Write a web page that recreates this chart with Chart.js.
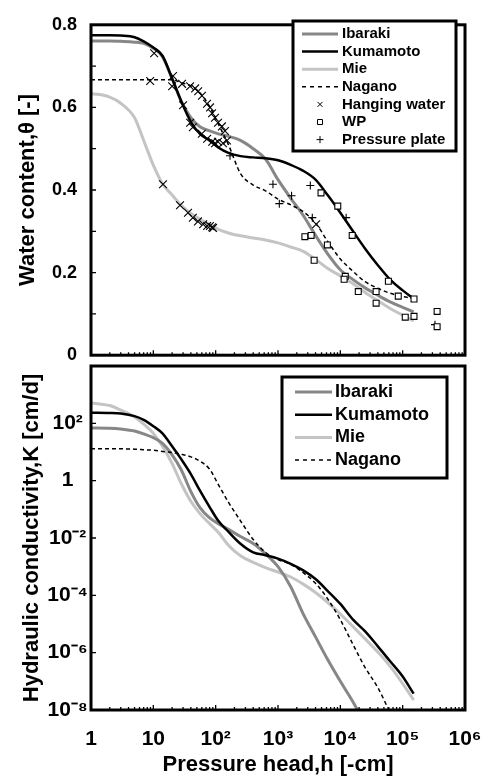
<!DOCTYPE html>
<html>
<head>
<meta charset="utf-8">
<script src="https://cdn.jsdelivr.net/npm/chart.js@4.4.1/dist/chart.umd.min.js"></script>
<style>
  html, body { margin: 0; padding: 0; background: #fff; }
  #wrap { position: relative; width: 502px; height: 776px; overflow: hidden; }
  canvas { position: absolute; left: 0; }
  #theta { top: 0; }
  #cond { top: 350px; }
</style>
</head>
<body>
<div id="wrap">
  <canvas id="theta" width="502" height="380"></canvas>
  <canvas id="cond" width="502" height="426"></canvas>
</div>
<script>
// Presión (h, -cm) donde se leyeron las curvas
const hGrid = [1, 2, 3, 5, 7, 10, 14, 20, 28, 40, 56, 80, 110, 160, 250, 400, 630,
  1000, 1600, 2500, 4000, 6300, 1e4, 1.6e4, 2.5e4, 4e4, 6.3e4, 1e5, 1.5e5];

// Contenido de agua (curvas ajustadas)
const thetaIbaraki = [0.761, 0.761, 0.760, 0.758, 0.755, 0.743, 0.723, 0.670, 0.615, 0.575, 0.553, 0.543, 0.536, 0.530, 0.520, 0.500, 0.475,
  0.425, 0.380, 0.340, 0.290, 0.245, 0.207, 0.183, 0.163, 0.145, 0.129, 0.116, 0.105];
const thetaKumamoto = [0.775, 0.775, 0.774, 0.770, 0.760, 0.745, 0.725, 0.670, 0.615, 0.565, 0.536, 0.520, 0.503, 0.490, 0.482, 0.479, 0.477,
  0.472, 0.461, 0.447, 0.425, 0.387, 0.345, 0.300, 0.258, 0.218, 0.183, 0.157, 0.137];
const thetaMie = [0.634, 0.625, 0.610, 0.575, 0.520, 0.460, 0.415, 0.388, 0.363, 0.343, 0.329, 0.317, 0.305, 0.296, 0.289, 0.284, 0.279,
  0.272, 0.262, 0.252, 0.232, 0.210, 0.192, 0.173, 0.152, 0.132, 0.113, 0.097, 0.083];
const thetaNagano = [0.667, 0.667, 0.667, 0.667, 0.667, 0.667, 0.667, 0.667, 0.660, 0.652, 0.635, 0.602, 0.560, 0.510, 0.440, 0.412, 0.398,
  0.378, 0.364, 0.348, 0.320, 0.275, 0.233, 0.203, 0.178, 0.162, 0.150, 0.142, 0.137];

// Conductividad: log10 K [cm/d]
const logKIbaraki = [1.84, 1.83, 1.80, 1.73, 1.63, 1.50, 1.30, 0.90, 0.38, -0.38, -0.94, -1.30, -1.50, -1.70, -1.95, -2.19, -2.55,
  -3.00, -3.70, -4.62, -5.45, -6.25, -7.00, -7.72, -8.50, null, null, null, null];
const logKKumamoto = [2.37, 2.36, 2.34, 2.25, 2.12, 1.90, 1.65, 1.20, 0.75, 0.23, -0.35, -0.92, -1.40, -1.78, -2.20, -2.50, -2.60,
  -2.72, -2.90, -3.12, -3.43, -3.85, -4.30, -4.85, -5.26, -5.78, -6.30, -6.83, -7.43];
const logKMie = [2.71, 2.62, 2.46, 2.22, 1.97, 1.65, 1.20, 0.60, -0.10, -0.72, -1.15, -1.50, -1.80, -2.25, -2.62, -2.85, -3.03,
  -3.19, -3.36, -3.60, -3.90, -4.25, -4.65, -5.09, -5.52, -5.98, -6.48, -7.08, -7.65];
const logKNagano = [1.11, 1.11, 1.11, 1.10, 1.08, 1.06, 1.02, 0.98, 0.92, 0.83, 0.68, 0.40, -0.13, -0.75, -1.40, -2.05, -2.50,
  -2.75, -2.92, -3.20, -3.58, -4.13, -4.85, -5.72, -6.52, -7.22, -8.10, null, null];

// Datos medidos
const hangingH = [10.3, 8.9, 20.7, 20, 28.9, 38.9, 46.8, 52.4, 60.3, 72.7, 81.2, 87.6, 97.5, 109, 126, 141, 152,
  30, 39, 43, 60, 73, 88, 98, 109, 131,
  14.3, 26.8, 36, 43, 52, 63, 73, 81, 88, 91, 4100];
const hangingTheta = [0.731, 0.664, 0.676, 0.651, 0.657, 0.651, 0.646, 0.639, 0.628, 0.609, 0.600, 0.586, 0.575, 0.563, 0.554, 0.543, 0.520,
  0.605, 0.563, 0.552, 0.536, 0.524, 0.517, 0.513, 0.517, 0.513,
  0.414, 0.363, 0.345, 0.333, 0.324, 0.317, 0.313, 0.313, 0.310, 0.308, 0.317];
const wpH = [4900, 9100, 15500, 2700, 3400, 6200, 3800, 12000, 11500, 19400, 37500, 37500, 59000, 85000, 152000, 110000, 152000, 357000, 357000];
const wpTheta = [0.393, 0.361, 0.290, 0.287, 0.290, 0.267, 0.230, 0.191, 0.184, 0.154, 0.154, 0.126, 0.179, 0.143, 0.136, 0.092, 0.094, 0.106, 0.069];
const plateH = [170, 830, 1050, 1650, 3300, 3550, 12400, 330000];
const plateTheta = [0.483, 0.414, 0.367, 0.386, 0.411, 0.333, 0.333, 0.074];

// Ejes
const hTicks = [1, 10, 100, 1e3, 1e4, 1e5, 1e6];
const hTickLabels = ['1', '10', '10²', '10³', '10⁴', '10⁵', '10⁶'];
const thetaTicks = [0, 0.2, 0.4, 0.6, 0.8];
const thetaTickLabels = ['0', '0.2', '0.4', '0.6', '0.8'];
const thetaMarks = [0.1, 0.2, 0.3, 0.4, 0.5, 0.6, 0.7];
const kTicks = [1e-8, 1e-6, 1e-4, 1e-2, 1, 1e2];
const kTickLabels = ['10⁻⁸', '10⁻⁶', '10⁻⁴', '10⁻²', '1', '10²'];

const FUENTE = '"Liberation Sans", Arial, sans-serif';
Chart.defaults.font.family = FUENTE;
Chart.defaults.color = '#000';

const estilos = {
  'Ibaraki':  { color: '#878787', width: 3, dash: [], order: 3 },
  'Kumamoto': { color: '#000000', width: 2.5, dash: [], order: 1 },
  'Mie':      { color: '#c4c4c4', width: 3, dash: [], order: 4 },
  'Nagano':   { color: '#000000', width: 1.5, dash: [4, 3], order: 2 }
};

const pares = (xs, ys) => xs.map((x, i) => ({ x: x, y: ys[i] })).filter(p => p.y !== null);
const paresLog = (xs, ls) => xs.map((x, i) => ({ x: x, y: ls[i] === null ? null : Math.pow(10, ls[i]) })).filter(p => p.y !== null);

function curva(label, data) {
  const e = estilos[label];
  return {
    label: label, data: data, showLine: true, fill: false,
    borderColor: e.color, borderWidth: e.width, borderDash: e.dash,
    pointRadius: 0, cubicInterpolationMode: 'monotone', order: e.order
  };
}

function marcas(label, data, estilo, r) {
  return {
    label: label, data: data, showLine: false, pointStyle: estilo, pointRadius: r,
    pointBorderColor: '#000', pointBackgroundColor: '#fff', pointBorderWidth: 1.1,
    borderColor: '#000', backgroundColor: '#fff', order: 0
  };
}

// Marco grueso + marcas de escala hacia dentro
const marco = {
  id: 'marco',
  afterDatasetsDraw(chart, args, opts) {
    const { ctx, chartArea: a, scales } = chart;
    const x = scales.x, y = scales.y;
    ctx.save();
    ctx.strokeStyle = '#000';
    ctx.lineWidth = 1.3;
    ctx.beginPath();
    for (let e = 0; e < 6; e++) {
      for (let m = 1; m < 10; m++) {
        const px = x.getPixelForValue(m * Math.pow(10, e));
        const largo = m === 1 ? 5 : 3;
        ctx.moveTo(px, a.bottom);
        ctx.lineTo(px, a.bottom - largo);
      }
    }
    opts.marcasY.forEach(v => {
      const py = y.getPixelForValue(v);
      ctx.moveTo(a.left, py);
      ctx.lineTo(a.left + 5, py);
    });
    ctx.stroke();
    ctx.lineWidth = 3;
    ctx.strokeRect(a.left, a.top, a.right - a.left, a.bottom - a.top);
    ctx.restore();
  }
};

// Leyenda con recuadro, como en la figura original
const leyendaCaja = {
  id: 'leyendaCaja',
  afterDraw(chart, args, o) {
    const ctx = chart.ctx;
    ctx.save();
    ctx.fillStyle = '#fff';
    ctx.fillRect(o.x, o.y, o.w, o.h);
    ctx.lineWidth = 3;
    ctx.strokeStyle = '#000';
    ctx.strokeRect(o.x, o.y, o.w, o.h);
    ctx.font = 'bold ' + o.size + 'px ' + FUENTE;
    ctx.textBaseline = 'middle';
    chart.data.datasets.forEach((ds, i) => {
      const cy = o.y + o.first + i * o.row;
      ctx.strokeStyle = ds.borderColor;
      if (ds.showLine) {
        ctx.lineWidth = ds.borderWidth;
        ctx.setLineDash(ds.borderDash.length ? [4, 4] : []);
        ctx.beginPath();
        ctx.moveTo(o.lineX, cy);
        ctx.lineTo(o.lineX + o.lineW, cy);
        ctx.stroke();
        ctx.setLineDash([]);
      } else {
        const cx = o.lineX + o.lineW / 2;
        ctx.lineWidth = 1;
        ctx.beginPath();
        if (ds.pointStyle === 'crossRot') {
          ctx.moveTo(cx - 2.5, cy - 2.5); ctx.lineTo(cx + 2.5, cy + 2.5);
          ctx.moveTo(cx - 2.5, cy + 2.5); ctx.lineTo(cx + 2.5, cy - 2.5);
        } else if (ds.pointStyle === 'rect') {
          ctx.rect(cx - 2.5, cy - 2.5, 5, 5);
        } else {
          ctx.moveTo(cx - 3.5, cy); ctx.lineTo(cx + 3.5, cy);
          ctx.moveTo(cx, cy - 3.5); ctx.lineTo(cx, cy + 3.5);
        }
        ctx.stroke();
      }
      ctx.fillStyle = '#000';
      ctx.fillText(ds.label, o.textX, cy);
    });
    ctx.restore();
  }
};

const sinRejilla = { display: false, drawTicks: false };

// 1. Curva de retención
new Chart(document.getElementById('theta'), {
  type: 'line',
  data: {
    datasets: [
      curva('Ibaraki', pares(hGrid, thetaIbaraki)),
      curva('Kumamoto', pares(hGrid, thetaKumamoto)),
      curva('Mie', pares(hGrid, thetaMie)),
      curva('Nagano', pares(hGrid, thetaNagano)),
      marcas('Hanging water', pares(hangingH, hangingTheta), 'crossRot', 5.5),
      marcas('WP', pares(wpH, wpTheta), 'rect', 4.2),
      marcas('Pressure plate', pares(plateH, plateTheta), 'cross', 4)
    ]
  },
  options: {
    responsive: false,
    animation: false,
    events: [],
    layout: { padding: { left: 0, right: 37, top: 16, bottom: 18 } },
    plugins: {
      legend: { display: false },
      tooltip: { enabled: false },
      marco: { marcasY: thetaMarks },
      leyendaCaja: { x: 293, y: 21, w: 163, h: 130, first: 13, row: 17.6, lineX: 302, lineW: 36, textX: 342, size: 15 }
    },
    scales: {
      x: { type: 'logarithmic', min: 1, max: 1e6, display: false },
      y: {
        type: 'linear', min: 0, max: 0.8,
        afterBuildTicks: s => { s.ticks = thetaTicks.map(v => ({ value: v })); },
        afterFit: s => { s.width = 91; },
        grid: sinRejilla,
        border: { display: false },
        ticks: {
          font: { size: 18, weight: 'bold' }, color: '#000', padding: 14, crossAlign: 'near',
          callback: (v, i) => thetaTickLabels[i]
        },
        title: {
          display: true, text: 'Water content,θ [-]', color: '#000',
          font: { size: 22, weight: 'bold', lineHeight: 1.2 }, padding: { top: 15, bottom: 0 }
        }
      }
    }
  },
  plugins: [marco, leyendaCaja]
});

// 2. Conductividad hidráulica
new Chart(document.getElementById('cond'), {
  type: 'line',
  data: {
    datasets: [
      curva('Ibaraki', paresLog(hGrid, logKIbaraki)),
      curva('Kumamoto', paresLog(hGrid, logKKumamoto)),
      curva('Mie', paresLog(hGrid, logKMie)),
      curva('Nagano', paresLog(hGrid, logKNagano))
    ]
  },
  options: {
    responsive: false,
    animation: false,
    events: [],
    layout: { padding: { left: 0, right: 37, top: 16, bottom: 0 } },
    plugins: {
      legend: { display: false },
      tooltip: { enabled: false },
      marco: { marcasY: kTicks },
      leyendaCaja: { x: 282, y: 27, w: 165, h: 101, first: 15, row: 22.7, lineX: 295, lineW: 37, textX: 335, size: 18 }
    },
    scales: {
      x: {
        type: 'logarithmic', min: 1, max: 1e6,
        afterBuildTicks: s => { s.ticks = hTicks.map(v => ({ value: v })); },
        afterFit: s => { s.height = 66; },
        grid: sinRejilla,
        border: { display: false },
        ticks: {
          font: { size: 21, weight: 'bold' }, color: '#000', padding: 17,
          autoSkip: false, maxRotation: 0, callback: (v, i) => hTickLabels[i]
        },
        title: {
          display: true, text: 'Pressure head,h [-cm]', color: '#000',
          font: { size: 22, weight: 'bold', lineHeight: 1 }, padding: { top: 0, bottom: 0 }
        }
      },
      y: {
        type: 'logarithmic', min: 1e-8, max: 1e4,
        afterBuildTicks: s => { s.ticks = kTicks.map(v => ({ value: v })); },
        afterFit: s => { s.width = 91; },
        grid: sinRejilla,
        border: { display: false },
        ticks: {
          font: { size: 21, weight: 'bold' }, color: '#000', padding: 3, crossAlign: 'center',
          autoSkip: false, callback: (v, i) => kTickLabels[i]
        },
        title: {
          display: true, text: 'Hydraulic conductivity,K [cm/d]', color: '#000',
          font: { size: 22, weight: 'bold', lineHeight: 1.2 }, padding: { top: 19, bottom: 0 }
        }
      }
    }
  },
  plugins: [marco, leyendaCaja]
});
</script>
</body>
</html>
